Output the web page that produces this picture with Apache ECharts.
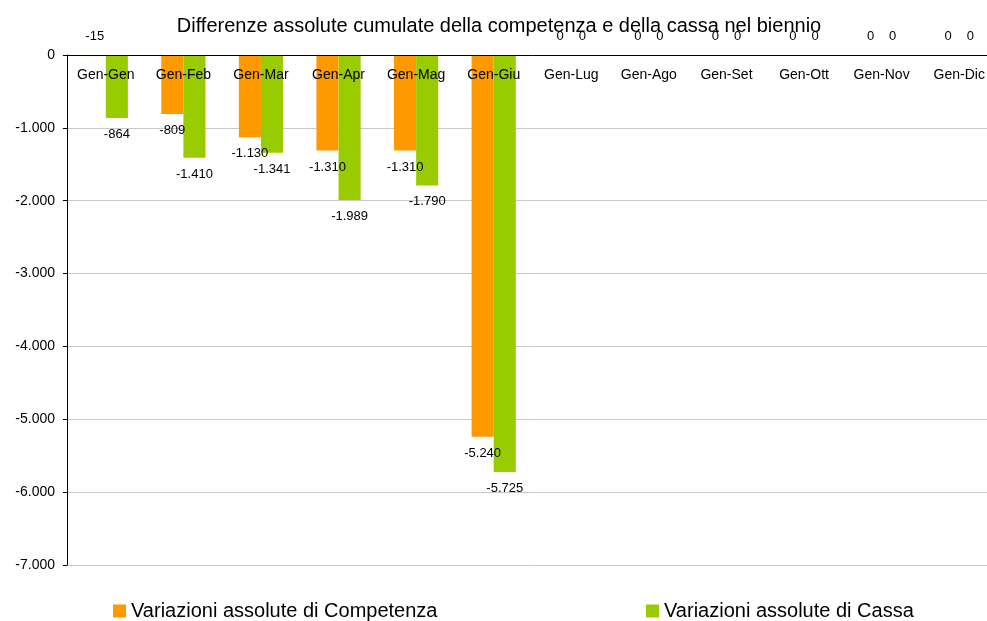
<!DOCTYPE html>
<html>
<head>
<meta charset="utf-8">
<script src="https://cdn.jsdelivr.net/npm/echarts@6/dist/echarts.min.js"></script>
<style>html,body{margin:0;padding:0;background:#fff;overflow:hidden}#c{width:998px;height:621px}</style>
</head>
<body>
<div id="c"></div>
<script>
const categories = ['Gen-Gen','Gen-Feb','Gen-Mar','Gen-Apr','Gen-Mag','Gen-Giu','Gen-Lug','Gen-Ago','Gen-Set','Gen-Ott','Gen-Nov','Gen-Dic'];
const competenza = [-15, -809, -1130, -1310, -1310, -5240, 0, 0, 0, 0, 0, 0];
const cassa = [-864, -1410, -1341, -1989, -1790, -5725, 0, 0, 0, 0, 0, 0];
const seriesNames = ['Variazioni assolute di Competenza', 'Variazioni assolute di Cassa'];
const titleText = 'Differenze assolute cumulate della competenza e della cassa nel biennio';

function fmt(v) {
  const neg = v < 0;
  let s = String(Math.abs(Math.round(v)));
  s = s.replace(/\B(?=(\d{3})+(?!\d))/g, '.');
  return (neg ? '-' : '') + s;
}
function toData(arr) {
  return arr.map(v => {
    if (v > -100) {
      return { value: v, label: { position: 'top', distance: 12 } };
    }
    return v;
  });
}
const font = 'Arial, "Liberation Sans", sans-serif';
const chart = echarts.init(document.getElementById('c'));
chart.setOption({
  animation: false,
  title: {
    text: titleText, left: 'center', top: 11,
    textStyle: { fontFamily: font, fontSize: 20, fontWeight: 'normal', color: '#000' }
  },
  legend: [
    { data: [seriesNames[0]], left: 108, top: 596, itemWidth: 13, itemHeight: 13, itemGap: 5,
      textStyle: { fontFamily: font, fontSize: 20, color: '#000' }, icon: 'rect' },
    { data: [seriesNames[1]], left: 641, top: 596, itemWidth: 13, itemHeight: 13, itemGap: 5,
      textStyle: { fontFamily: font, fontSize: 20, color: '#000' }, icon: 'rect' }
  ],
  grid: { left: 67, right: 0, top: 55, bottom: 56, containLabel: false },
  xAxis: {
    type: 'category', data: categories, position: 'top', z: 10,
    axisLine: { lineStyle: { color: '#000', width: 1 } },
    axisTick: { inside: true, length: 4, lineStyle: { color: '#000' } },
    axisLabel: { inside: true, margin: 13, fontFamily: font, fontSize: 14, color: '#000', interval: 0 }
  },
  yAxis: {
    type: 'value', min: -7000, max: 0, interval: 1000,
    axisLine: { show: true, lineStyle: { color: '#000' } },
    axisTick: { show: true, length: 4, lineStyle: { color: '#000' } },
    axisLabel: { fontFamily: font, fontSize: 14, color: '#000', margin: 12, formatter: v => fmt(v) },
    splitLine: { lineStyle: { color: '#c8c8c8' } }
  },
  series: [
    { name: seriesNames[0], type: 'bar', data: toData(competenza), barGap: '0%', barCategoryGap: '43%',
      itemStyle: { color: '#FF9900' },
      label: { show: true, position: 'bottom', distance: 10, fontFamily: font, fontSize: 13, color: '#000', formatter: p => fmt(p.value) } },
    { name: seriesNames[1], type: 'bar', data: toData(cassa), barGap: '0%', barCategoryGap: '43%',
      itemStyle: { color: '#99CC00' },
      label: { show: true, position: 'bottom', distance: 10, fontFamily: font, fontSize: 13, color: '#000', formatter: p => fmt(p.value) } }
  ]
});
</script>
</body>
</html>
